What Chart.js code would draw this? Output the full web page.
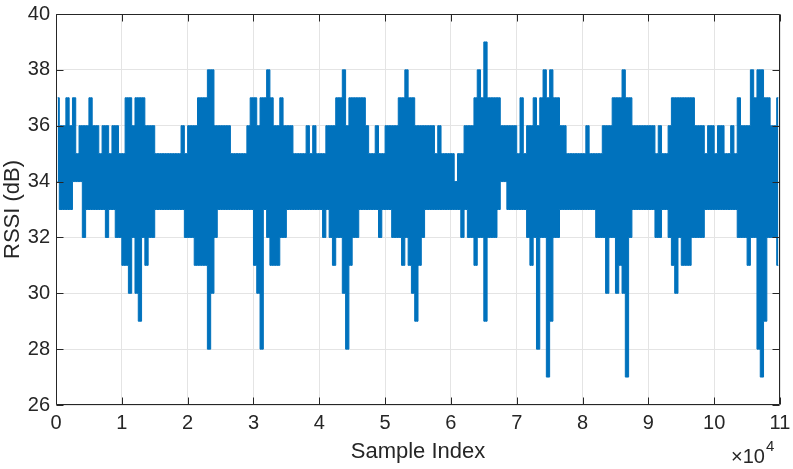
<!DOCTYPE html>
<html>
<head>
<meta charset="utf-8">
<script src="https://cdn.jsdelivr.net/npm/chart.js@4"></script>
<style>
html,body{margin:0;padding:0;background:#ffffff;}
#wrap{width:793px;height:469px;position:relative;}
</style>
</head>
<body>
<div id="wrap"><canvas id="c" width="793" height="469"></canvas></div>
<script>
// Upper envelope (max RSSI, dB) of each block of 500 samples
const rssiMax = [
  37,36,36,37,36,37,35,36,36,36,
  37,36,36,35,36,36,35,36,36,35,
  35,37,37,36,37,37,37,36,36,36,
  35,35,35,35,35,35,35,35,36,35,
  36,36,36,37,37,37,38,38,36,36,
  36,36,36,35,35,35,35,35,36,37,
  37,36,37,37,38,37,36,36,37,36,
  36,36,35,35,35,35,36,35,36,35,
  35,35,36,36,36,37,37,38,36,37,
  37,37,37,37,36,35,35,36,35,35,
  36,36,36,36,37,37,38,37,37,36,
  36,36,36,36,36,35,36,35,35,35,
  35,34,35,35,36,36,36,37,38,37,
  39,37,37,37,37,36,36,36,36,36,
  35,37,35,36,36,37,36,37,38,37,
  38,37,37,36,36,35,35,35,35,35,
  35,36,35,35,35,35,36,36,36,37,
  37,37,38,37,37,36,36,36,36,36,
  36,36,35,36,35,35,36,37,37,37,
  37,37,37,37,36,36,36,35,36,36,
  35,36,36,35,35,36,35,37,36,36,
  36,38,37,38,38,37,37,36,36,37
];
// Lower envelope (min RSSI, dB) of each block of 500 samples
const rssiMin = [
  34,33,33,33,33,34,34,34,32,33,
  33,33,33,33,33,32,33,33,32,32,
  31,31,30,32,30,29,32,31,32,32,
  33,33,33,33,33,33,33,33,33,32,
  32,32,31,31,31,31,28,30,32,33,
  33,33,33,33,33,33,33,33,33,33,
  31,30,28,33,32,31,31,31,32,32,
  33,33,33,33,33,33,33,33,33,33,
  33,32,33,32,31,32,32,30,28,31,
  32,32,33,33,33,33,33,33,32,33,
  33,33,32,32,32,31,32,31,30,29,
  31,32,33,33,33,33,33,33,33,33,
  33,33,33,32,33,32,32,31,32,32,
  29,32,32,32,33,34,34,33,33,33,
  33,33,33,32,31,32,28,32,32,27,
  29,32,32,33,33,33,33,33,33,33,
  33,33,33,33,32,32,32,30,32,32,
  30,31,30,27,32,33,33,33,33,33,
  33,33,32,32,33,33,32,31,30,32,
  31,31,31,32,32,32,32,33,33,33,
  33,33,33,33,33,33,33,32,32,32,
  31,32,32,28,27,29,32,32,32,31
];
const samplesPerBlock = 500;
const xTicks = [0,10000,20000,30000,40000,50000,60000,70000,80000,90000,100000,110000];
const yTicks = [26,28,30,32,34,36,38,40];

const blockCenters = rssiMax.map((_, i) => i * samplesPerBlock + samplesPerBlock / 2);
const upperData = blockCenters.map((x, i) => ({x: x, y: rssiMax[i]}));
const lowerData = blockCenters.map((x, i) => ({x: x, y: rssiMin[i]}));

const LINE = '#0072BD';
const AXIS = '#262626';
const FONT = "'Liberation Sans', Arial, Helvetica, sans-serif";

const boxPlugin = {
  id: 'matlabBox',
  afterDraw(chart) {
    const ctx = chart.ctx;
    const a = chart.chartArea;
    const xs = chart.scales.x, ys = chart.scales.y;
    ctx.save();
    ctx.strokeStyle = AXIS;
    ctx.lineWidth = 1;
    const L = Math.round(a.left) + 0.5, R = Math.round(a.right) - 0.5;
    const T = Math.round(a.top) + 0.5, B = Math.round(a.bottom) - 0.5;
    ctx.beginPath();
    ctx.rect(L, T, R - L, B - T);
    const tl = 7;
    xTicks.forEach(v => {
      const p = Math.round(xs.getPixelForValue(v)) + 0.5;
      ctx.moveTo(p, B); ctx.lineTo(p, B - tl);
      ctx.moveTo(p, T); ctx.lineTo(p, T + tl);
    });
    yTicks.forEach(v => {
      const p = Math.round(ys.getPixelForValue(v)) + 0.5;
      ctx.moveTo(L, p); ctx.lineTo(L + tl, p);
      ctx.moveTo(R, p); ctx.lineTo(R - tl, p);
    });
    ctx.stroke();
    // exponent label
    ctx.fillStyle = AXIS;
    ctx.textAlign = 'left';
    ctx.textBaseline = 'alphabetic';
    ctx.font = '20px ' + FONT;
    const base = '\u00d710';
    const x0 = 731;
    ctx.fillText(base, x0, 463);
    const w = ctx.measureText(base).width;
    ctx.font = '15px ' + FONT;
    ctx.fillText('4', x0 + w + 1, 451);
    ctx.restore();
  }
};

new Chart(document.getElementById('c'), {
  type: 'line',
  data: {
    datasets: [
      {
        label: 'RSSI max',
        data: upperData,
        stepped: 'middle',
        borderColor: LINE,
        borderWidth: 1,
        backgroundColor: LINE,
        fill: '+1',
        pointRadius: 0
      },
      {
        label: 'RSSI min',
        data: lowerData,
        stepped: 'middle',
        borderColor: LINE,
        borderWidth: 1,
        backgroundColor: LINE,
        fill: false,
        pointRadius: 0
      }
    ]
  },
  options: {
    responsive: false,
    animation: false,
    devicePixelRatio: 1,
    layout: { padding: { top: 14, right: 13, left: 0, bottom: 0 } },
    plugins: { legend: { display: false }, tooltip: { enabled: false } },
    scales: {
      x: {
        type: 'linear',
        min: 0, max: 110000,
        afterBuildTicks: s => { s.ticks = xTicks.map(v => ({value: v})); },
        afterFit: s => { s.height = 64; s.paddingLeft = 0; s.paddingRight = 0; },
        ticks: {
          callback: v => String(v / 10000),
          font: { family: FONT, size: 20 },
          color: AXIS,
          padding: 6,
          maxRotation: 0,
          autoSkip: false
        },
        grid: { color: '#e4e4e4', lineWidth: 1, drawTicks: false },
        border: { display: false },
        title: {
          display: true, text: 'Sample Index',
          font: { family: FONT, size: 22 },
          color: AXIS,
          padding: { top: 0, bottom: 4 }
        }
      },
      y: {
        min: 26, max: 40,
        afterBuildTicks: s => { s.ticks = yTicks.map(v => ({value: v})); },
        afterFit: s => { s.width = 56; s.paddingTop = 0; s.paddingBottom = 0; },
        ticks: {
          font: { family: FONT, size: 20 },
          color: AXIS,
          padding: 6
        },
        grid: { color: '#e4e4e4', lineWidth: 1, drawTicks: false },
        border: { display: false },
        title: {
          display: true, text: 'RSSI (dB)',
          font: { family: FONT, size: 22 },
          color: AXIS,
          padding: { top: 0, bottom: 0 }
        }
      }
    }
  },
  plugins: [boxPlugin]
});
</script>
</body>
</html>
